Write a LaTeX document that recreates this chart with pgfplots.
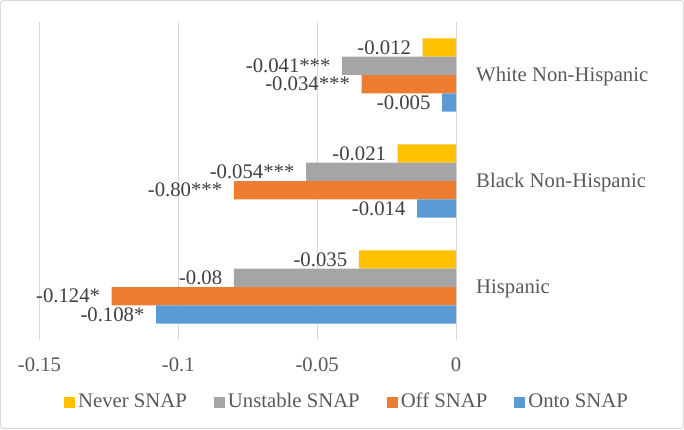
\documentclass[border=0pt]{standalone}
\usepackage{fontspec}
\setmainfont{Liberation Serif}
\usepackage{pgfplots}
\pgfplotsset{compat=1.18}
\definecolor{cNever}{HTML}{FFC000}
\definecolor{cUnstable}{HTML}{A5A5A5}
\definecolor{cOff}{HTML}{ED7D31}
\definecolor{cOnto}{HTML}{5B9BD5}
\definecolor{cGrid}{HTML}{D9D9D9}
\definecolor{cFrame}{HTML}{D9D9D9}
\definecolor{cText}{HTML}{595959}
\definecolor{cLab}{HTML}{404040}
\pgfplotsset{sqlegend/.style={legend image code/.code={\fill[##1,draw=none] (0bp,-5.5bp) rectangle (11bp,5.5bp);}}}
\begin{document}
\fontsize{20.8}{24}\selectfont
\begin{tikzpicture}[x=1bp,y=1bp]
\useasboundingbox (0,0) rectangle (684,429);
\draw[draw=cFrame, line width=1bp, rounded corners=3bp] (0.5,0.5) rectangle (683.5,428.5);
\begin{axis}[
  at={(39.5bp,89bp)}, anchor=south west,
  scale only axis, width=416.5bp, height=318bp,
  xmin=-0.15, xmax=0, ymin=-0.5, ymax=2.5,
  xtick={-0.15,-0.1,-0.05,0}, xticklabels={-0.15,-0.1,-0.05,0},
  ytick={0,1,2}, yticklabels={Hispanic,Black Non-Hispanic,White Non-Hispanic},
  yticklabel pos=right,
  major tick length=0pt,
  axis line style={draw=none},
  xmajorgrids, grid style={cGrid, line width=1bp},
  xticklabel style={anchor=center, inner sep=0pt, yshift=-25bp, text=cText},
  yticklabel style={anchor=base west, inner sep=0pt, xshift=20bp, yshift=-6.8bp, text=cText},
  nodes near coords, point meta=explicit symbolic,
  every node near coord/.append style={anchor=east, inner sep=0pt, xshift=-11.5bp, text=cLab},
  legend columns=4,
  legend style={at={(0.736,-0.195)}, anchor=center, draw=none, fill=none, text=cText,
    nodes={inner sep=0pt},
    /tikz/every odd column/.style={column sep=3bp},
    /tikz/every even column/.style={column sep=27bp}},
]
\addplot[xbar, bar width=18.2bp, bar shift=27.5bp, fill=cNever, draw=none, sqlegend,
  every node near coord/.append style={yshift=27.5bp}] coordinates {(-0.035,0)[-0.035] (-0.021,1)[-0.021] (-0.012,2)[-0.012]};
\addplot[xbar, bar width=18.2bp, bar shift=9.2bp, fill=cUnstable, draw=none, sqlegend,
  every node near coord/.append style={yshift=9.2bp}] coordinates {(-0.08,0)[-0.08] (-0.054,1)[-0.054***] (-0.041,2)[-0.041***]};
\addplot[xbar, bar width=18.2bp, bar shift=-9.2bp, fill=cOff, draw=none, sqlegend,
  every node near coord/.append style={yshift=-9.2bp}] coordinates {(-0.124,0)[-0.124*] (-0.080,1)[-0.80***] (-0.034,2)[-0.034***]};
\addplot[xbar, bar width=18.2bp, bar shift=-27.5bp, fill=cOnto, draw=none, sqlegend,
  every node near coord/.append style={yshift=-27.5bp}] coordinates {(-0.108,0)[-0.108*] (-0.014,1)[-0.014] (-0.005,2)[-0.005]};
\legend{Never SNAP, Unstable SNAP, Off SNAP, Onto SNAP}
\end{axis}
\end{tikzpicture}
\end{document}
